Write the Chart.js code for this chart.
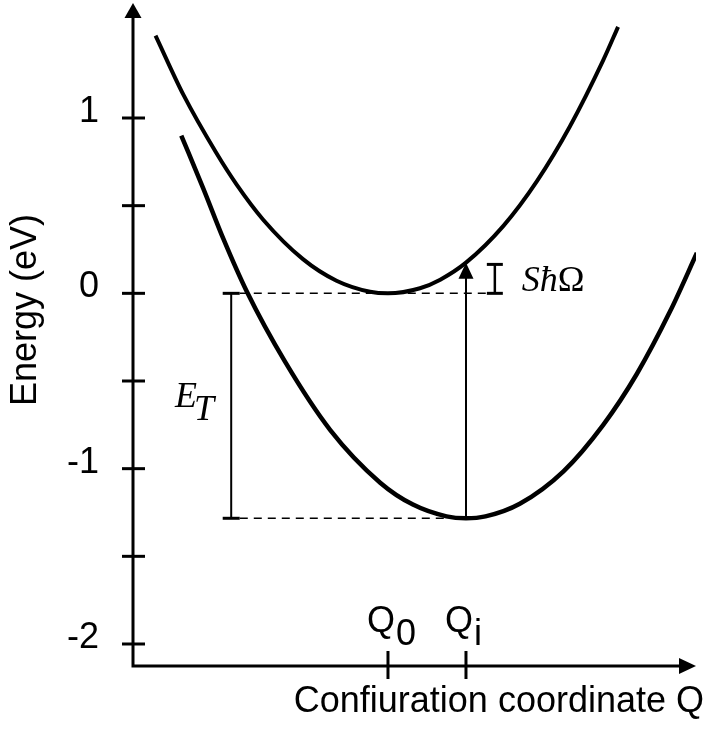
<!DOCTYPE html>
<html>
<head>
<meta charset="utf-8">
<script src="https://cdn.jsdelivr.net/npm/chart.js@4.4.1/dist/chart.umd.min.js"></script>
<style>
  html, body { margin: 0; padding: 0; background: #fff; }
</style>
</head>
<body>
<canvas id="ccChart" width="714" height="729"></canvas>
<script>
// Configuration coordinate diagram: two potential-energy parabolas
const upperQ = [-2.98, -2.62, -2.20, -1.94, -1.60, -1.09, -0.66, -0.23, 0, 0.41, 0.67, 1.0, 1.48, 1.91, 2.33, 2.76, 2.95];
const upperE = [1.47, 1.13, 0.80, 0.62, 0.42, 0.195, 0.072, 0.009, 0, 0.029, 0.078, 0.175, 0.385, 0.64, 0.95, 1.33, 1.52];
const lowerQ = [-2.65, -2.37, -2.11, -1.81, -1.32, -0.74, -0.10, 0.32, 0.75, 1.0, 1.25, 1.69, 2.25, 2.76, 3.19, 3.62, 3.96];
const lowerE = [0.90, 0.60, 0.31, 0.01, -0.39, -0.78, -1.08, -1.205, -1.272, -1.283, -1.272, -1.20, -1.015, -0.75, -0.46, -0.10, 0.23];

// energy levels used by the annotations
const levelTop = 0;          // minimum of upper curve
const levelBottom = -1.283;  // minimum of lower curve
const levelPhonon = 0.165;   // S*hbar*Omega above the upper minimum
const levelArrowTip = 0.175; // upper curve at Qi

// axis ticks
const yTicks = [-2, -1.5, -1, -0.5, 0, 0.5, 1];
const xTicks = [0, 1];
const xTickNames = ['Q', 'Q'];
const xTickSubs = ['0', 'i'];

const yTitle = 'Energy (eV)';
const xTitle = 'Confiuration coordinate Q';

// layout bits (Q positions of the vertical bars)
const etBarQ = -2.01;
const phononBarQ = 1.37;
const dashStartQ = -1.90;

const pts = (qs, es) => qs.map((q, i) => ({ x: q, y: es[i] }));
const seg = (q1, e1, q2, e2) => [{ x: q1, y: e1 }, { x: q2, y: e2 }];

const sans = 'Liberation Sans, Arial, sans-serif';
const serif = 'Liberation Serif, Times New Roman, serif';

const annotations = {
  id: 'annotations',
  afterDatasetsDraw(chart) {
    const { ctx, chartArea: ca, scales: { x, y } } = chart;
    const ax = ca.left, ay = ca.bottom;
    ctx.save();
    ctx.strokeStyle = '#000';
    ctx.fillStyle = '#000';
    ctx.lineCap = 'butt';
    ctx.lineJoin = 'miter';

    // axes with arrows
    ctx.lineWidth = 3;
    ctx.beginPath();
    ctx.moveTo(ax, ca.top + 14);
    ctx.lineTo(ax, ay);
    ctx.lineTo(ca.right - 16, ay);
    ctx.stroke();
    ctx.beginPath();
    ctx.moveTo(ax, ca.top);
    ctx.lineTo(ax - 8.5, ca.top + 15);
    ctx.lineTo(ax + 8.5, ca.top + 15);
    ctx.closePath();
    ctx.fill();
    ctx.beginPath();
    ctx.moveTo(ca.right, ay);
    ctx.lineTo(ca.right - 17, ay - 8);
    ctx.lineTo(ca.right - 17, ay + 8);
    ctx.closePath();
    ctx.fill();

    // tick marks crossing the axes
    yTicks.forEach(v => {
      const py = y.getPixelForValue(v);
      ctx.beginPath();
      ctx.moveTo(ax - 11, py);
      ctx.lineTo(ax + 12, py);
      ctx.stroke();
    });
    xTicks.forEach((v, i) => {
      const px = x.getPixelForValue(v);
      ctx.beginPath();
      ctx.moveTo(px, ay - 15);
      ctx.lineTo(px, ay + 13);
      ctx.stroke();
      // Q with subscript
      ctx.font = '36px ' + sans;
      ctx.textAlign = 'left';
      ctx.textBaseline = 'alphabetic';
      const w = ctx.measureText(xTickNames[i]).width;
      const left = px - 21;
      ctx.fillText(xTickNames[i], left, ay - 34);
      ctx.fillText(xTickSubs[i], left + w + 1, ay - 21);
    });

    // caps on the E_T bar and the phonon bar
    const cap = (q, e, half) => {
      const px = x.getPixelForValue(q), py = y.getPixelForValue(e);
      ctx.beginPath();
      ctx.moveTo(px - half, py);
      ctx.lineTo(px + half, py);
      ctx.stroke();
    };
    ctx.lineWidth = 3;
    cap(etBarQ, levelTop, 8.5);
    cap(etBarQ, levelBottom, 8.5);
    cap(phononBarQ, levelTop, 8);
    cap(phononBarQ, levelPhonon, 8);

    // arrow head at Qi
    const tx = x.getPixelForValue(xTicks[1]), ty = y.getPixelForValue(levelArrowTip);
    ctx.beginPath();
    ctx.moveTo(tx, ty);
    ctx.lineTo(tx - 7.5, ty + 16);
    ctx.lineTo(tx + 7.5, ty + 16);
    ctx.closePath();
    ctx.fill();

    // E_T label
    ctx.textAlign = 'left';
    ctx.textBaseline = 'alphabetic';
    ctx.font = 'italic 36px ' + serif;
    ctx.fillText('E', 175, 407);
    ctx.fillText('T', 194, 420);

    // S hbar Omega label
    const px2 = x.getPixelForValue(phononBarQ) + 27;
    ctx.font = 'italic 36px ' + serif;
    ctx.fillText('S\u0127', px2, 291);
    const sw = ctx.measureText('S\u0127').width;
    ctx.font = '36px ' + serif;
    ctx.fillText('\u03A9', px2 + sw, 291);

    // axis titles
    ctx.font = '36px ' + sans;
    ctx.textAlign = 'right';
    ctx.fillText(xTitle, 704, 712);
    ctx.save();
    ctx.translate(36, 310);
    ctx.rotate(-Math.PI / 2);
    ctx.textAlign = 'center';
    ctx.fillText(yTitle, 0, 0);
    ctx.restore();

    ctx.restore();
  }
};

const curve = (data, width) => ({
  data, borderColor: '#000', borderWidth: width, pointRadius: 0,
  cubicInterpolationMode: 'monotone', fill: false
});
const rule = (data, width, dash) => ({
  data, borderColor: '#000', borderWidth: width, pointRadius: 0, tension: 0, fill: false,
  borderDash: dash || []
});

new Chart(document.getElementById('ccChart'), {
  type: 'line',
  data: {
    datasets: [
      curve(pts(upperQ, upperE), 4),
      curve(pts(lowerQ, lowerE), 4.5),
      rule(seg(dashStartQ, levelTop, phononBarQ, levelTop), 1.5, [8, 6]),
      rule(seg(dashStartQ, levelBottom, xTicks[1], levelBottom), 1.5, [8, 6]),
      rule(seg(etBarQ, levelTop, etBarQ, levelBottom), 2),
      rule(seg(xTicks[1], levelBottom, xTicks[1], 0.1), 2),
      rule(seg(phononBarQ, levelTop, phononBarQ, levelPhonon), 2.5)
    ]
  },
  options: {
    responsive: false,
    animation: false,
    events: [],
    layout: { autoPadding: false, padding: { top: 3, right: 18, bottom: 63, left: 0 } },
    plugins: { legend: { display: false }, tooltip: { enabled: false } },
    scales: {
      x: { type: 'linear', min: -3.269, max: 3.949, display: false },
      y: {
        type: 'linear', min: -2.1255, max: 1.6559,
        afterFit: s => { s.width = 133; s.paddingTop = 0; s.paddingBottom = 0; },
        afterBuildTicks: s => { s.ticks = yTicks.map(v => ({ value: v })); },
        grid: { display: false, drawTicks: false },
        border: { display: false },
        ticks: {
          color: '#000', padding: 34, labelOffset: -6, autoSkip: false,
          font: { family: sans, size: 36 },
          callback: v => Number.isInteger(v) ? String(v) : ''
        }
      }
    }
  },
  plugins: [annotations]
});
</script>
</body>
</html>
